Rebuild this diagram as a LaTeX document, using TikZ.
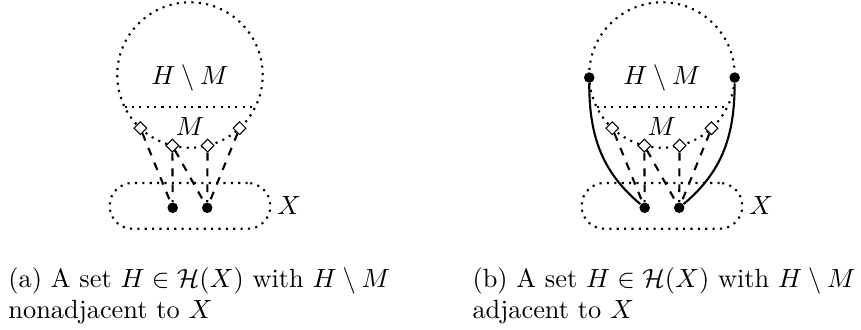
\documentclass[tikz,border=0pt]{standalone}
\usetikzlibrary{shapes.geometric}
\tikzset{
	port/.style = {draw, diamond, fill = white, inner sep = 0pt, minimum size = 5pt},
	vtx/.style = {circle, fill, inner sep = 0pt, minimum size = 4pt},
	setbox/.style = {draw, dotted, thick, minimum width = 2.14cm, minimum height = 0.61cm, rounded corners = 0.3cm},
	link/.style = {dashed, thick}
}
\begin{document}
\begin{tikzpicture}
\useasboundingbox (-2.533,1) rectangle (8.947,-3.387);
\foreach \s/\xs in {a/0, b/6.293}
{
	\begin{scope}[xshift = \xs cm]
	\draw[dotted, thick] (0,0) circle [radius = 0.97];
	\draw[dotted, thick] (206:0.97) -- (-26:0.97);
	\node (hm\s) at (0,-0.04) {$H \setminus M$};
	\node (m\s) at (0,-0.69) {$M$};
	\node[setbox] (x\s) at (0,-1.745) {};
	\node[anchor = west, inner sep = 2pt] (xl\s) at (x\s.east) {$X$};
	\foreach \i/\a in {1/227, 2/256, 3/284, 4/313}
	{
		\node[port] (p\s\i) at (\a:0.97) {};
	}
	\node[vtx] (v\s1) at (-0.23,-1.77) {};
	\node[vtx] (v\s2) at (0.23,-1.77) {};
	\draw[link] (p\s1) -- (v\s1);
	\draw[link] (p\s2) -- (v\s1);
	\draw[link] (p\s2) -- (v\s2);
	\draw[link] (p\s3) -- (v\s2);
	\draw[link] (p\s4) -- (v\s2);
	\end{scope}
}
% the two extra vertices of H \ M in (b)
\begin{scope}[xshift = 6.293cm]
\node[vtx] (hb1) at (182:0.97) {};
\node[vtx] (hb2) at (-2:0.97) {};
\end{scope}
\draw[thick] (hb1) to[out = -90, in = 140] (vb1);
\draw[thick] (hb2) to[out = -90, in = 40] (vb2);
\node[anchor = north west, align = left, inner sep = 0pt] (capa) at (-2.427,-2.56)
	{(a) A set $H \in \mathcal{H}(X)$ with $H \setminus M$\\ nonadjacent to $X$};
\node[anchor = north west, align = left, inner sep = 0pt] (capb) at (3.76,-2.56)
	{(b) A set $H \in \mathcal{H}(X)$ with $H \setminus M$\\ adjacent to $X$};
\end{tikzpicture}
\end{document}
